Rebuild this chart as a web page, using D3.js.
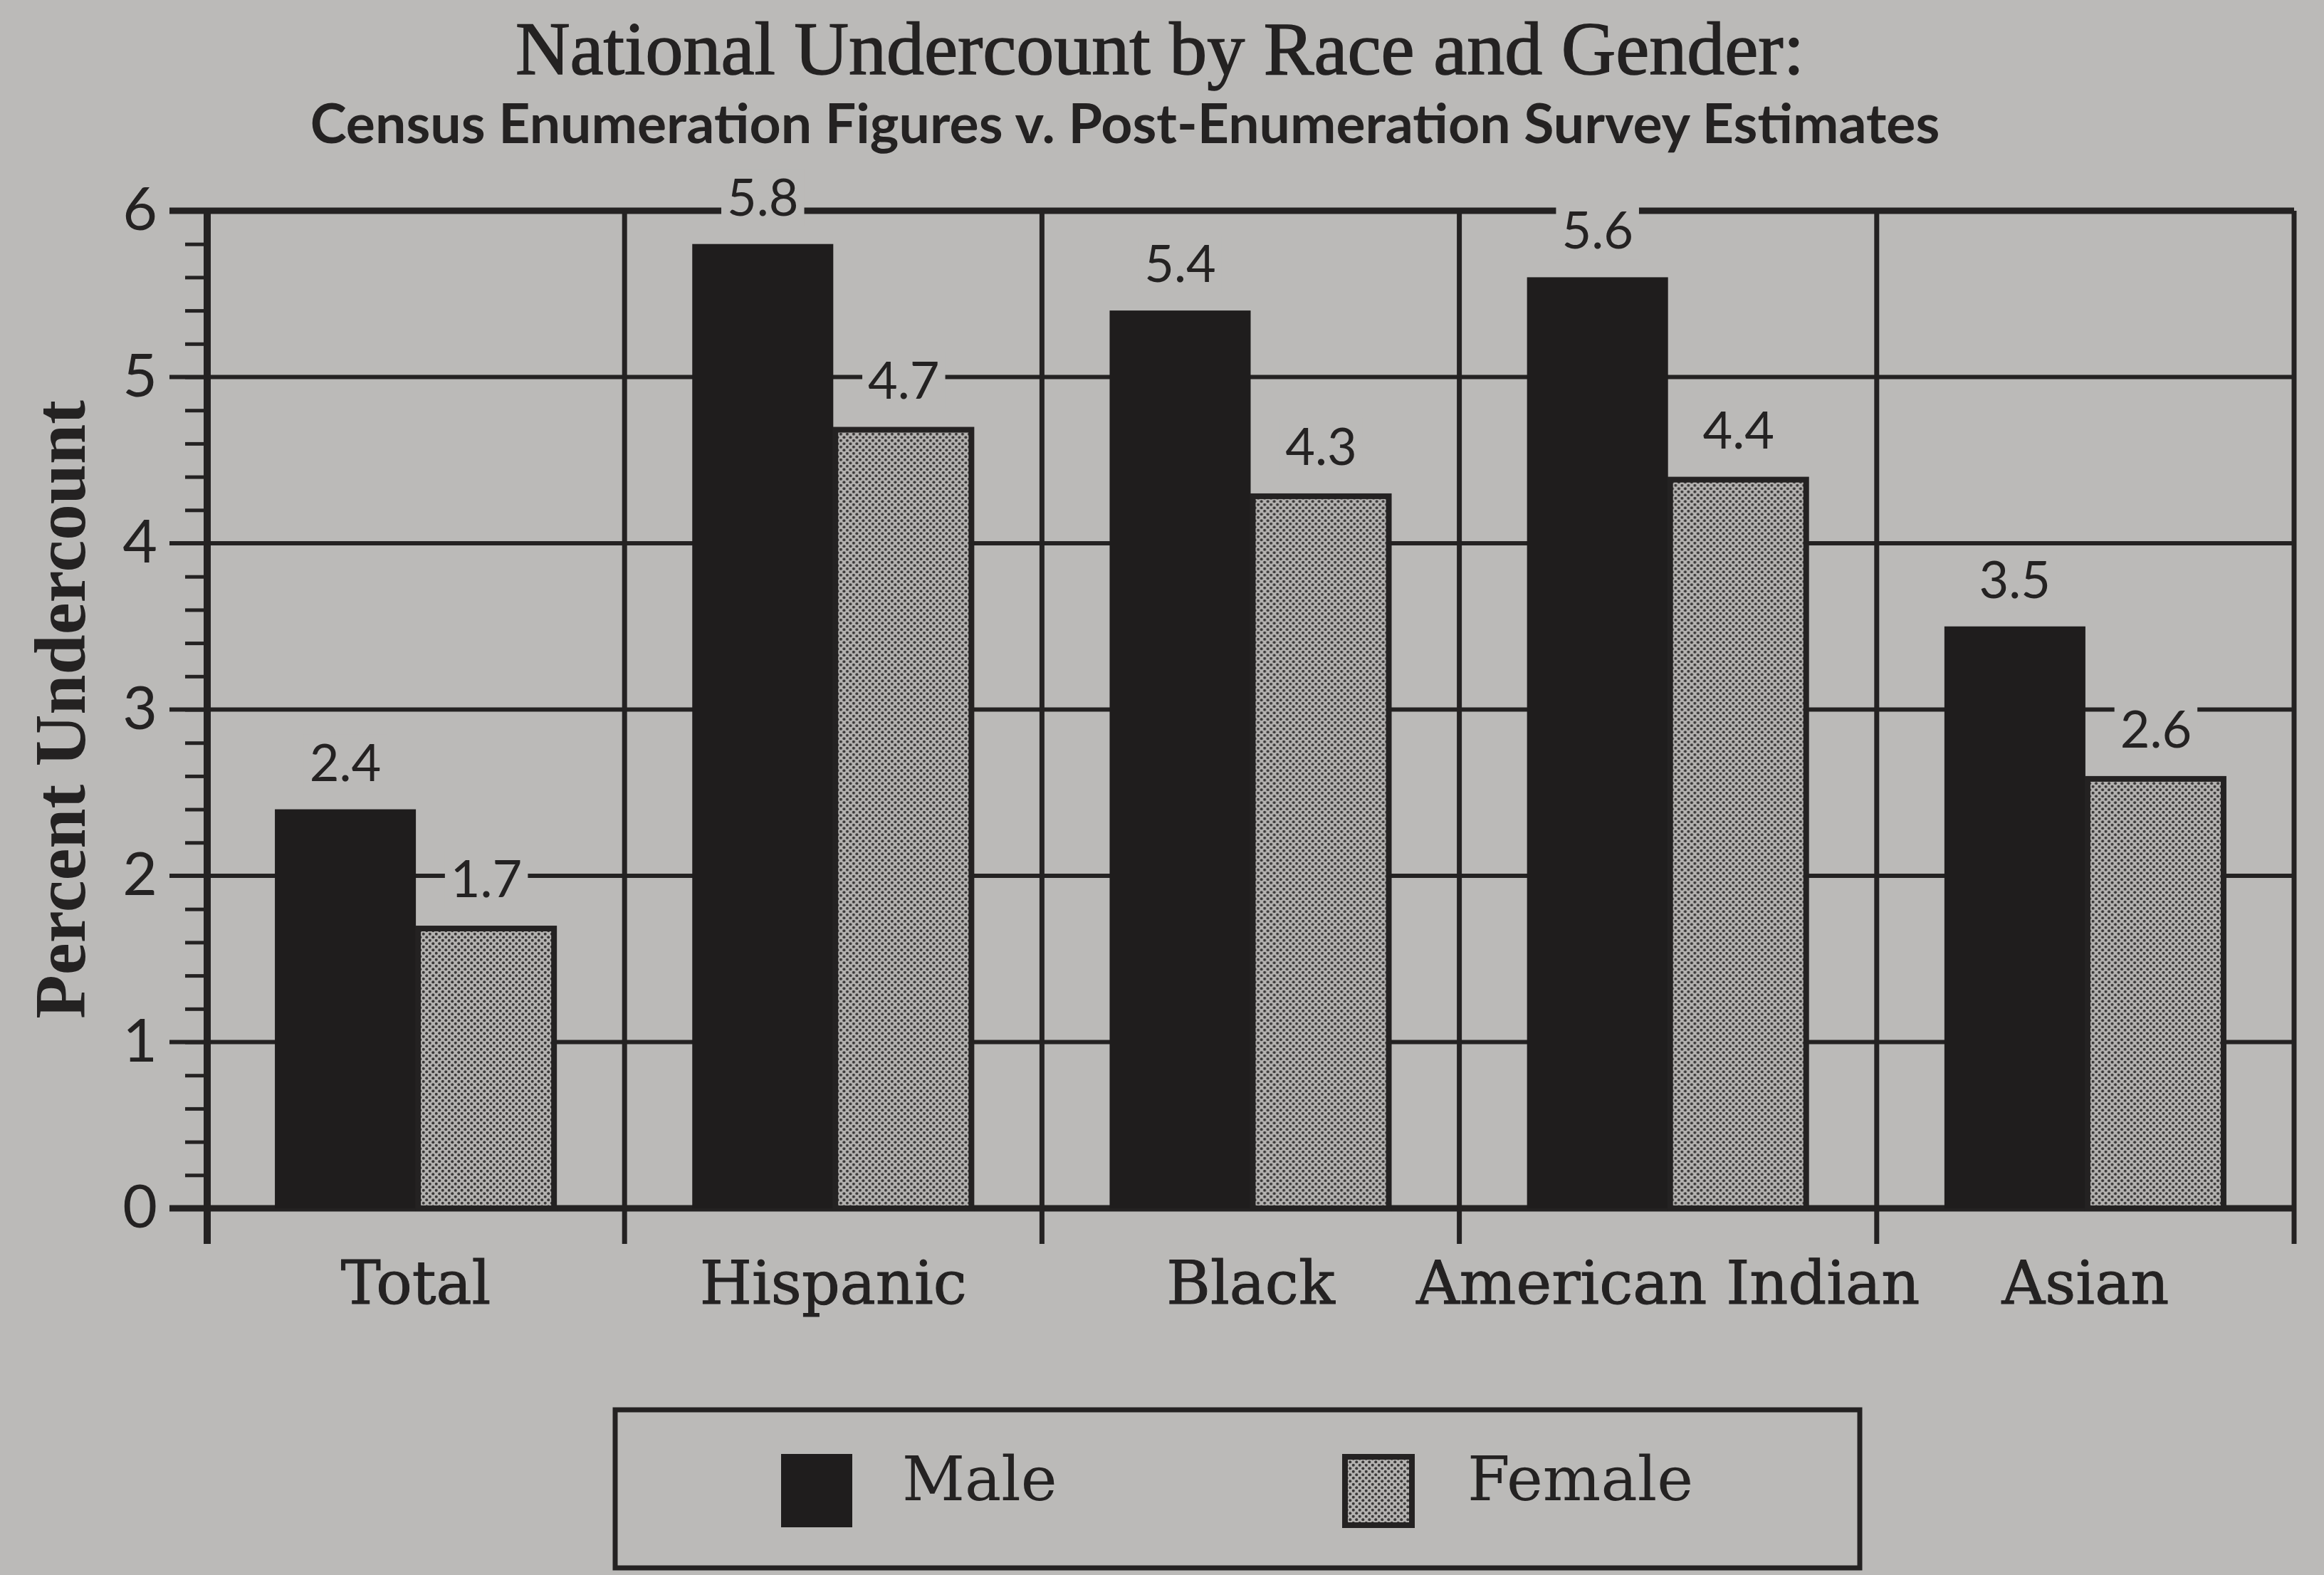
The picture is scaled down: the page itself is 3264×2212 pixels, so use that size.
<!DOCTYPE html>
<html>
<head>
<meta charset="utf-8">
<script src="https://cdn.jsdelivr.net/npm/d3@7"></script>
<style>
  body { margin: 0; background: #bbbab8; }
  svg { display: block; }
</style>
</head>
<body>
<svg id="chart" width="3264" height="2212"></svg>
<script>
// Chart data
var categories = ["Total", "Hispanic", "Black", "American Indian", "Asian"];
var maleValues = [2.4, 5.8, 5.4, 5.6, 3.5];
var femaleValues = [1.7, 4.7, 4.3, 4.4, 2.6];
var seriesNames = ["Male", "Female"];
var yTickValues = [0, 1, 2, 3, 4, 5, 6];

var svg = d3.select("svg"),
    width = +svg.attr("width"),
    height = +svg.attr("height");

var bg = "#bbbab8",
    ink = "#242222";

var margin = {top: 296, right: 42, bottom: 515, left: 291};

svg.append("rect")
    .attr("width", width)
    .attr("height", height)
    .attr("fill", bg);

// halftone fill for the female bars
var defs = svg.append("defs");
var pat = defs.append("pattern")
    .attr("id", "dots")
    .attr("width", 9)
    .attr("height", 9)
    .attr("patternUnits", "userSpaceOnUse");
pat.append("rect").attr("width", 9).attr("height", 9).attr("fill", "#b4b2b0");
pat.append("circle").attr("cx", 2.25).attr("cy", 2.25).attr("r", 2).attr("fill", "#3a3838");
pat.append("circle").attr("cx", 6.75).attr("cy", 6.75).attr("r", 2).attr("fill", "#3a3838");

// Scales
var x = d3.scaleBand()
    .domain(categories)
    .range([margin.left, width - margin.right])
    .padding(0);

var x1 = d3.scaleBand()
    .domain(seriesNames)
    .range([0, x.bandwidth()])
    .paddingInner(0)
    .paddingOuter(0.48);

var y = d3.scaleLinear()
    .domain([0, 6])
    .range([height - margin.bottom, margin.top]);

var x0 = x.range()[0], xEnd = x.range()[1];

// Titles
svg.append("text")
    .attr("x", 1629)
    .attr("y", 104)
    .attr("text-anchor", "middle")
    .attr("font-family", "Liberation Serif")
    .attr("font-size", 106)
    .attr("fill", ink)
    .attr("stroke", ink)
    .attr("stroke-width", 1.5)
    .text("National Undercount by Race and Gender:");

svg.append("text")
    .attr("x", 1580)
    .attr("y", 201)
    .attr("text-anchor", "middle")
    .attr("font-family", "Lato")
    .attr("font-weight", "bold")
    .attr("font-size", 77)
    .attr("fill", ink)
    .text("Census Enumeration Figures v. Post-Enumeration Survey Estimates");

// Horizontal grid lines (also the major ticks)
svg.append("g")
    .selectAll("line")
    .data(yTickValues)
    .enter().append("line")
    .attr("x1", x0 - 53)
    .attr("x2", xEnd)
    .attr("y1", function(d) { return y(d); })
    .attr("y2", function(d) { return y(d); })
    .attr("stroke", ink)
    .attr("stroke-width", function(d) { return d == 0 || d == 6 ? 9 : 6; });

// Minor ticks every 0.2
svg.append("g")
    .attr("transform", "translate(" + x0 + ",0)")
    .call(d3.axisLeft(y)
        .tickValues(d3.range(0, 6.01, 0.2))
        .tickSize(31)
        .tickFormat(""))
    .call(function(g) { g.select(".domain").remove(); })
    .selectAll("line")
    .attr("stroke", ink)
    .attr("stroke-width", 5);

// Y tick labels
svg.append("g")
    .attr("transform", "translate(" + x0 + ",0)")
    .call(d3.axisLeft(y)
        .tickValues(yTickValues)
        .tickSize(0)
        .tickPadding(70)
        .tickFormat(d3.format("d")))
    .call(function(g) { g.select(".domain").remove(); })
    .selectAll("text")
    .attr("font-family", "Lato")
    .attr("font-size", 84)
    .attr("fill", ink);

// Vertical dividers between categories
var dividers = categories.map(function(c) { return x(c); }).concat([xEnd]);
svg.append("g")
    .selectAll("line")
    .data(dividers)
    .enter().append("line")
    .attr("x1", function(d) { return d; })
    .attr("x2", function(d) { return d; })
    .attr("y1", y(6))
    .attr("y2", y(0) + 50)
    .attr("stroke", ink)
    .attr("stroke-width", function(d, i) { return i == 0 ? 10 : 7; });

// Bars
var groups = svg.append("g")
    .selectAll("g")
    .data(categories)
    .enter().append("g")
    .attr("transform", function(d) { return "translate(" + x(d) + ",0)"; });

groups.append("rect")
    .attr("x", x1("Male"))
    .attr("y", function(d, i) { return y(maleValues[i]); })
    .attr("width", x1.bandwidth())
    .attr("height", function(d, i) { return y(0) - y(maleValues[i]); })
    .attr("fill", "#1f1d1d");

groups.append("rect")
    .attr("x", x1("Female") + 3)
    .attr("y", function(d, i) { return y(femaleValues[i]) + 4; })
    .attr("width", x1.bandwidth() - 7)
    .attr("height", function(d, i) { return y(0) - y(femaleValues[i]) - 4; })
    .attr("fill", "url(#dots)")
    .attr("stroke", ink)
    .attr("stroke-width", 8);

// Value labels with a knockout behind them
function valueLabel(g, name, values) {
  var lab = g.append("g");
  lab.append("text")
      .attr("x", x1(name) + x1.bandwidth() / 2)
      .attr("y", function(d, i) { return y(values[i]) - 40; })
      .attr("text-anchor", "middle")
      .attr("font-family", "Lato")
      .attr("font-size", 72)
      .attr("fill", ink)
      .text(function(d, i) { return d3.format(".1f")(values[i]); });
  lab.each(function() {
    var b = d3.select(this).select("text").node().getBBox();
    d3.select(this).insert("rect", "text")
        .attr("x", b.x - 8)
        .attr("y", b.y + 6)
        .attr("width", b.width + 16)
        .attr("height", b.height - 6)
        .attr("fill", bg);
  });
}
valueLabel(groups, "Male", maleValues);
valueLabel(groups, "Female", femaleValues);

// Category labels
svg.append("g")
    .attr("transform", "translate(0," + y(0) + ")")
    .call(d3.axisBottom(x).tickSize(0).tickPadding(74))
    .call(function(g) { g.select(".domain").remove(); })
    .selectAll("text")
    .attr("font-family", "DejaVu Serif")
    .attr("font-size", 84)
    .attr("fill", ink)
    .attr("stroke", ink)
    .attr("stroke-width", 1);

// Y axis title
svg.append("text")
    .attr("transform", "translate(119," + (y(0) + y(6)) / 2 + ") rotate(-90)")
    .attr("text-anchor", "middle")
    .attr("font-family", "Liberation Serif")
    .attr("font-weight", "bold")
    .attr("font-size", 101)
    .attr("fill", ink)
    .text("Percent Undercount");

// Legend
var legend = svg.append("g");
legend.append("rect")
    .attr("x", 864)
    .attr("y", 1980)
    .attr("width", 1748)
    .attr("height", 222)
    .attr("fill", "none")
    .attr("stroke", ink)
    .attr("stroke-width", 7);

var legendX = [1097, 1885];
var items = legend.selectAll("g.item")
    .data(seriesNames)
    .enter().append("g")
    .attr("class", "item")
    .attr("transform", function(d, i) { return "translate(" + legendX[i] + ",2042)"; });

items.append("rect")
    .attr("x", function(d) { return d == "Female" ? 4 : 0; })
    .attr("y", function(d) { return d == "Female" ? 4 : 0; })
    .attr("width", function(d) { return d == "Female" ? 94 : 100; })
    .attr("height", function(d) { return d == "Female" ? 96 : 103; })
    .attr("fill", function(d) { return d == "Female" ? "url(#dots)" : "#1f1d1d"; })
    .attr("stroke", function(d) { return d == "Female" ? ink : "none"; })
    .attr("stroke-width", 8);

items.append("text")
    .attr("x", function(d) { return d == "Female" ? 176 : 170; })
    .attr("y", 65)
    .attr("font-family", "DejaVu Serif")
    .attr("font-size", 86)
    .attr("fill", ink)
    .text(function(d) { return d; });
</script>
</body>
</html>
